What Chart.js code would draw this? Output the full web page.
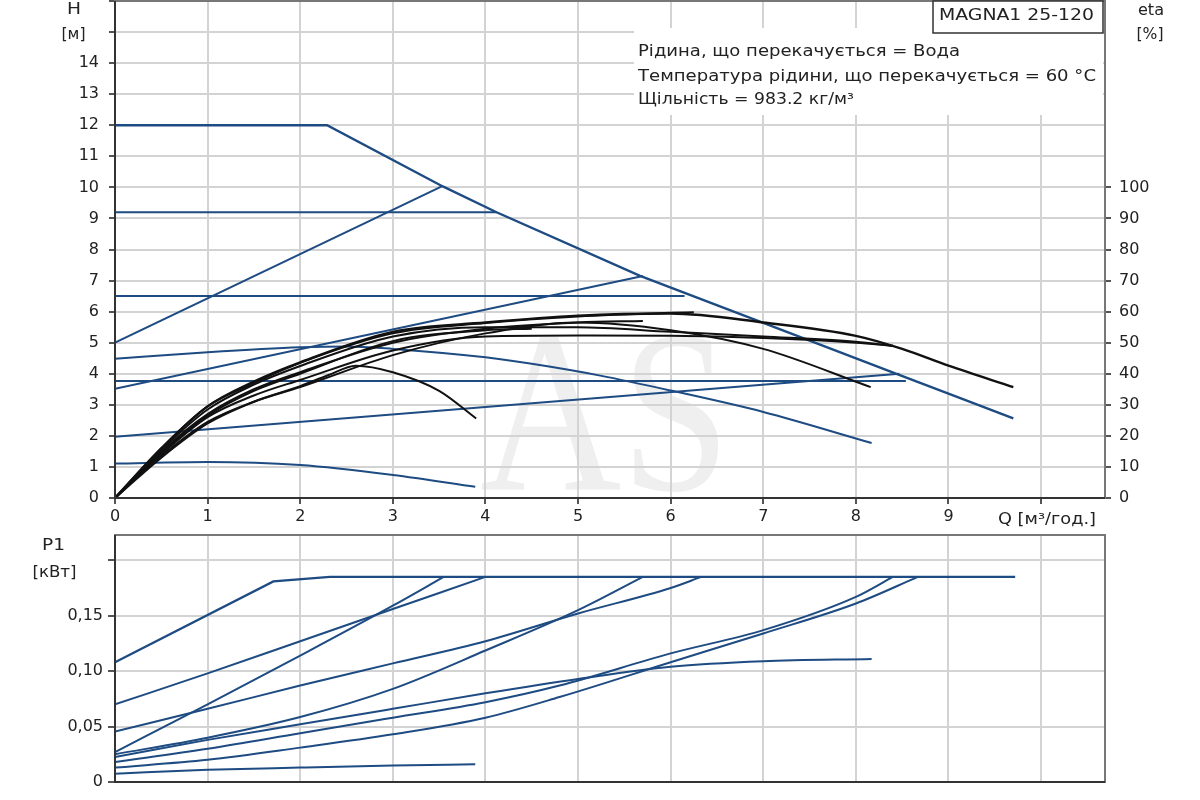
<!DOCTYPE html>
<html>
<head>
<meta charset="utf-8">
<script src="https://cdn.jsdelivr.net/npm/chart.js@4.4.1/dist/chart.umd.min.js"></script>
<style>
  html, body { margin: 0; padding: 0; background: #fff; }
  #wrap { position: relative; width: 1200px; height: 800px; }
  canvas { position: absolute; left: 0; }
  #top { top: 0; }
  #bot { top: 530px; }
</style>
</head>
<body>
<div id="wrap">
  <canvas id="top" width="1200" height="530"></canvas>
  <canvas id="bot" width="1200" height="270"></canvas>
</div>
<script>
// ---- axis ticks ----
const qTicks = [0, 1, 2, 3, 4, 5, 6, 7, 8, 9, 10];
const hTicks = [0, 1, 2, 3, 4, 5, 6, 7, 8, 9, 10, 11, 12, 13, 14, 15, 16];
const etaTicks = [0, 10, 20, 30, 40, 50, 60, 70, 80, 90, 100];
const pTicks = [0, 0.05, 0.10, 0.15, 0.20];
const pLabels = ["0", "0,05", "0,10", "0,15", ""];

// ---- H curves (Q m3/h, H m) ----
const maxQ = [0, 2.29, 3.54, 4.12, 5.67, 7, 8.46, 9, 9.7];
const maxH = [12, 12, 10.03, 9.2, 7.15, 5.64, 3.97, 3.36, 2.56];
const cp1Q = [0, 4.12];        const cp1H = [9.2, 9.2];
const cp2Q = [0, 6.15];        const cp2H = [6.5, 6.5];
const cp3Q = [0, 8.54];        const cp3H = [3.77, 3.77];
const pp1Q = [0, 3.54];        const pp1H = [5.0, 10.05];
const pp2Q = [0, 5.7];         const pp2H = [3.52, 7.15];
const pp3Q = [0, 8.47];        const pp3H = [1.97, 4.0];
const cs1Q = [0, 1, 2, 2.5, 3, 4, 4.5, 5.24, 6, 7, 8.17];
const cs1H = [4.48, 4.69, 4.85, 4.88, 4.8, 4.53, 4.32, 3.94, 3.46, 2.77, 1.77];
const cs2Q = [0, 1, 2, 3, 3.89];
const cs2H = [1.11, 1.16, 1.06, 0.74, 0.36];

// ---- eta curves (%) ----
const e1Q = [0, 0.5, 1, 1.5, 2, 2.3, 2.6, 3, 3.5, 3.9];
const e1 = [0, 13, 24, 31, 36, 39.5, 42.6, 40.5, 34.5, 25.6];
const e2Q = [0, 0.5, 1, 1.5, 2, 3, 4, 5, 6, 7, 8.16];
const e2 = [0, 13.5, 24.5, 31, 35.7, 46, 53, 56.5, 54, 48, 35.7];
const e3Q = [0, 0.5, 1, 1.5, 2, 3, 4, 5, 6, 7, 8, 8.5, 9, 9.7];
const e3 = [0, 16, 29.5, 37.5, 43.7, 53.5, 56.5, 58.7, 59.4, 56.5, 52.2, 48, 42.6, 35.7];
const e4Q = [0, 0.5, 1, 1.5, 2, 3, 4, 5, 6, 7, 8, 8.4];
const e4 = [0, 15.5, 28.5, 36.5, 42.5, 52, 55, 55, 53.5, 52, 50.3, 49];
const e5Q = [0, 0.5, 1, 1.5, 2, 3, 4, 5, 6, 7, 8, 8.4];
const e5 = [0, 14, 26, 33, 38, 47.5, 52, 52.3, 52.2, 51.5, 50, 49];
const e6Q = [0, 0.5, 1, 1.5, 2, 3, 4, 5, 6, 6.25];
const e6 = [0, 16, 29.5, 37, 43.5, 53, 56.3, 58.4, 59.6, 59.8];
const e7Q = [0, 0.5, 1, 1.5, 2, 3, 4, 5, 5.7];
const e7 = [0, 15, 27, 35, 40.5, 50, 54.5, 56.5, 57];
const e8Q = [0, 0.5, 1, 1.5, 2, 3, 4, 4.5];
const e8 = [0, 14.5, 26.5, 34.5, 40, 50.5, 54, 54.5];

// ---- P1 curves (kW) ----
const paQ = [0, 1.71, 2.32, 9.72];          const paP = [0.108, 0.181, 0.185, 0.185];
const pbQ = [0, 1, 2, 3, 4.0];               const pbP = [0.070, 0.098, 0.127, 0.156, 0.185];
const pcQ = [0, 1, 2, 3, 3.55];              const pcP = [0.027, 0.07, 0.114, 0.159, 0.185];
const pdQ = [0, 1, 2, 3, 4, 5, 6, 6.33];     const pdP = [0.0456, 0.066, 0.087, 0.107, 0.127, 0.152, 0.175, 0.185];
const peQ = [0, 1, 2, 3, 4, 5, 5.7];         const peP = [0.025, 0.04, 0.0586, 0.084, 0.1186, 0.155, 0.185];
const pfQ = [0, 1, 2, 3, 4, 4.8, 6, 7, 8, 8.67];
const pfP = [0.013, 0.02, 0.031, 0.043, 0.058, 0.0766, 0.108, 0.134, 0.161, 0.185];
const pgQ = [0, 1, 2, 3, 4, 4.8, 6, 7, 8, 8.4];
const pgP = [0.018, 0.03, 0.044, 0.058, 0.072, 0.087, 0.116, 0.137, 0.167, 0.185];
const phQ = [0, 1, 2, 3, 4, 5, 6, 7, 8.17];  const phP = [0.0225, 0.038, 0.052, 0.066, 0.08, 0.093, 0.104, 0.109, 0.111];
const piQ = [0, 1, 2, 3, 3.89];              const piP = [0.0075, 0.011, 0.013, 0.0148, 0.016];

const BLUE = "#1d4b82";
const BLACK = "#111111";
const GRID = "#d3d3d3";
const FONT = "DejaVu Sans";

function series(q, v, color, axis, smooth, width) {
  return {
    data: q.map((x, i) => ({ x: x, y: v[i] })),
    borderColor: color,
    borderWidth: width || 2,
    pointRadius: 0,
    fill: false,
    yAxisID: axis,
    tension: 0,
    cubicInterpolationMode: smooth ? "monotone" : "default"
  };
}

function setTicks(list) {
  return (scale) => { scale.ticks = list.map(v => ({ value: v })); };
}

// fixed axis size, no extra room for the end labels
function fixSize(w, h) {
  return (s) => {
    if (w !== null) s.width = w;
    if (h !== null) s.height = h;
    s.paddingTop = 0; s.paddingBottom = 0;
    s.paddingLeft = 0; s.paddingRight = 0;
  };
}

// text squeezed/stretched to a width
function drawText(ctx, txt, x, y, w, align) {
  const m = ctx.measureText(txt).width;
  const sx = w ? w / m : 1;
  ctx.save();
  ctx.translate(x, y);
  ctx.scale(sx, 1);
  ctx.textAlign = align || "left";
  ctx.fillText(txt, 0, 0);
  ctx.restore();
}

function drawFrame(chart) {
  const a = chart.chartArea, ctx = chart.ctx;
  ctx.save();
  ctx.lineWidth = 2;
  ctx.strokeStyle = "#777";
  ctx.strokeRect(a.left, a.top, a.right - a.left, a.bottom - a.top);
  ctx.strokeStyle = "#333";
  ctx.beginPath();
  ctx.moveTo(a.left, a.top);
  ctx.lineTo(a.left, a.bottom);
  ctx.lineTo(a.right, a.bottom);
  ctx.stroke();
  ctx.restore();
}

const topDecor = {
  id: "topDecor",
  beforeDraw(chart) {
    const ctx = chart.ctx;
    ctx.save();
    ctx.fillStyle = "#efefef";
    ctx.font = "230px 'Liberation Serif'";
    ctx.textBaseline = "alphabetic";
    drawText(ctx, "AS", 605, 490, 250, "center");
    ctx.restore();
  },
  beforeDatasetsDraw(chart) {
    const ctx = chart.ctx;
    ctx.save();
    ctx.fillStyle = "#fff";
    ctx.fillRect(634, 28, 469, 87);
    ctx.restore();
  },
  afterDraw(chart) {
    const ctx = chart.ctx;
    drawFrame(chart);
    ctx.save();
    // model box
    ctx.fillStyle = "#fff";
    ctx.fillRect(933, 1, 170, 32);
    ctx.strokeStyle = "#333";
    ctx.lineWidth = 1.5;
    ctx.strokeRect(933, 1, 170, 32);
    ctx.fillStyle = "#222";
    ctx.textBaseline = "middle";
    ctx.font = "15px " + FONT;
    drawText(ctx, "MAGNA1 25-120", 939, 16, 155);
    drawText(ctx, "Рідина, що перекачується = Вода", 638, 52, 322);
    drawText(ctx, "Температура рідини, що перекачується = 60 °C", 638, 77, 458);
    drawText(ctx, "Щільність = 983.2 кг/м³", 638, 100, 216);
    // axis titles
    ctx.font = "16px " + FONT;
    drawText(ctx, "H", 74, 10, 14, "center");
    drawText(ctx, "[м]", 73.5, 35, 24, "center");
    drawText(ctx, "eta", 1151, 11, 26, "center");
    drawText(ctx, "[%]", 1150, 35, 27, "center");
    drawText(ctx, "Q [м³/год.]", 998, 520, 98);
    ctx.restore();
  }
};

const botDecor = {
  id: "botDecor",
  afterDraw(chart) {
    const ctx = chart.ctx;
    drawFrame(chart);
    ctx.save();
    ctx.fillStyle = "#222";
    ctx.textBaseline = "middle";
    ctx.font = "16px " + FONT;
    drawText(ctx, "P1", 53.5, 16, 23, "center");
    drawText(ctx, "[кВт]", 54.5, 43, 44, "center");
    ctx.restore();
  }
};

const tickFont = { family: FONT, size: 16 };

new Chart(document.getElementById("top"), {
  type: "line",
  data: {
    datasets: [
      series(e1Q, e1, BLACK, "y1", true),
      series(e2Q, e2, BLACK, "y1", true),
      series(e3Q, e3, BLACK, "y1", true, 2.4),
      series(e4Q, e4, BLACK, "y1", true),
      series(e5Q, e5, BLACK, "y1", true),
      series(e6Q, e6, BLACK, "y1", true),
      series(e7Q, e7, BLACK, "y1", true),
      series(e8Q, e8, BLACK, "y1", true),
      series(maxQ, maxH, BLUE, "y", false, 2.4),
      series(cp1Q, cp1H, BLUE, "y", false),
      series(cp2Q, cp2H, BLUE, "y", false),
      series(cp3Q, cp3H, BLUE, "y", false),
      series(pp1Q, pp1H, BLUE, "y", false),
      series(pp2Q, pp2H, BLUE, "y", false),
      series(pp3Q, pp3H, BLUE, "y", false),
      series(cs1Q, cs1H, BLUE, "y", true),
      series(cs2Q, cs2H, BLUE, "y", true)
    ]
  },
  options: {
    responsive: false,
    animation: false,
    devicePixelRatio: 1,
    layout: { padding: { top: 1, left: 0, right: 0, bottom: 0 } },
    plugins: { legend: { display: false }, tooltip: { enabled: false } },
    scales: {
      x: {
        type: "linear", min: 0, max: 10.69,
        afterBuildTicks: setTicks(qTicks),
        afterFit: fixSize(null, 32),
        border: { display: false },
        grid: { color: GRID, lineWidth: 2, tickLength: 6, tickColor: "#555" },
        ticks: { font: tickFont, color: "#222", padding: 3, maxRotation: 0,
                 callback: (v) => (v <= 9 ? String(v) : "") }
      },
      y: {
        position: "left", min: 0, max: 16,
        afterBuildTicks: setTicks(hTicks),
        afterFit: fixSize(115, null),
        border: { display: false },
        grid: { color: GRID, lineWidth: 2, tickLength: 6, tickColor: "#555" },
        ticks: { font: tickFont, color: "#222", padding: 10,
                 callback: (v) => (v <= 14 ? String(v) : "") }
      },
      y1: {
        position: "right", min: 0, max: 160,
        afterBuildTicks: setTicks(etaTicks),
        afterFit: fixSize(95, null),
        border: { display: false },
        grid: { drawOnChartArea: false, tickLength: 6, tickColor: "#555", lineWidth: 2 },
        ticks: { font: tickFont, color: "#222", padding: 8 }
      }
    }
  },
  plugins: [topDecor]
});

new Chart(document.getElementById("bot"), {
  type: "line",
  data: {
    datasets: [
      series(paQ, paP, BLUE, "y", false, 2.4),
      series(pbQ, pbP, BLUE, "y", true),
      series(pcQ, pcP, BLUE, "y", true),
      series(pdQ, pdP, BLUE, "y", true),
      series(peQ, peP, BLUE, "y", true),
      series(pfQ, pfP, BLUE, "y", true),
      series(pgQ, pgP, BLUE, "y", true),
      series(phQ, phP, BLUE, "y", true),
      series(piQ, piP, BLUE, "y", true)
    ]
  },
  options: {
    responsive: false,
    animation: false,
    devicePixelRatio: 1,
    layout: { padding: { top: 5, left: 0, right: 95, bottom: 0 } },
    plugins: { legend: { display: false }, tooltip: { enabled: false } },
    scales: {
      x: {
        type: "linear", min: 0, max: 10.69,
        afterBuildTicks: setTicks(qTicks),
        afterFit: fixSize(null, 18),
        border: { display: false },
        grid: { color: GRID, lineWidth: 2, drawTicks: false },
        ticks: { display: false }
      },
      y: {
        position: "left", min: 0, max: 0.2228,
        afterBuildTicks: setTicks(pTicks),
        afterFit: fixSize(115, null),
        border: { display: false },
        grid: { color: GRID, lineWidth: 2, tickLength: 7, tickColor: "#555" },
        ticks: { font: tickFont, color: "#222", padding: 5,
                 callback: (v, i) => pLabels[i] }
      }
    }
  },
  plugins: [botDecor]
});
</script>
</body>
</html>
